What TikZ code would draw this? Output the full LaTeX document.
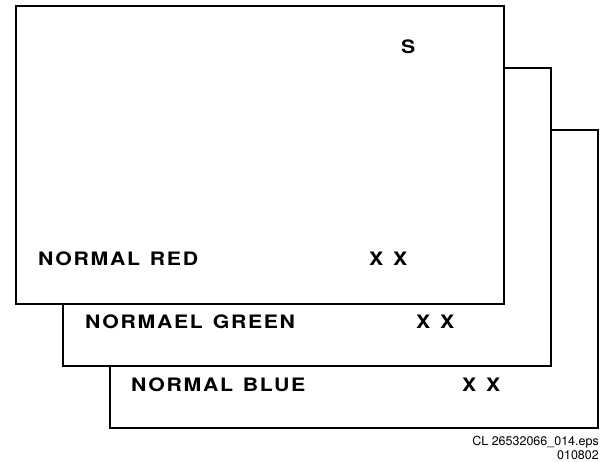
\documentclass[tikz,border=0pt]{standalone}
\usepackage{fontspec}
\setmainfont{TeX Gyre Heros}
\newfontfamily\labfont[LetterSpace=9,WordSpace=1.3,FakeStretch=1.15]{TeX Gyre Heros}
\begin{document}
\begin{tikzpicture}[x=1pt,y=-1pt,
  sheet/.style={draw=black,line width=1.6pt,fill=white,rectangle,anchor=north west,
    minimum width=488pt,minimum height=298pt,inner sep=0pt,outer sep=0pt},
  lab/.style={anchor=base west,inner sep=0pt,font=\labfont\bfseries\fontsize{18.5}{20}\selectfont},
  foot/.style={anchor=base east,inner sep=0pt,font=\fontsize{12.5}{14}\selectfont}]
\useasboundingbox (0,0) rectangle (608,461);
\node[sheet] (blue) at (110,130) {};
\node[sheet] (green) at (63,68) {};
\node[sheet] (red) at (16,6) {};
\node[lab] (s) at (401,53) {S};
\node[lab] (redlab) at (38,265) {NORMAL RED};
\node[lab] (redxx) at (369,265) {X X};
\node[lab] (greenlab) at (85,328) {NORMAEL GREEN};
\node[lab] (greenxx) at (416,328) {X X};
\node[lab] (bluelab) at (131,391) {NORMAL BLUE};
\node[lab] (bluexx) at (462,391) {X X};
\node[foot] (f1) at (599,445) {CL 26532066\_014.eps};
\node[foot] (f2) at (599,459) {010802};
\end{tikzpicture}
\end{document}
